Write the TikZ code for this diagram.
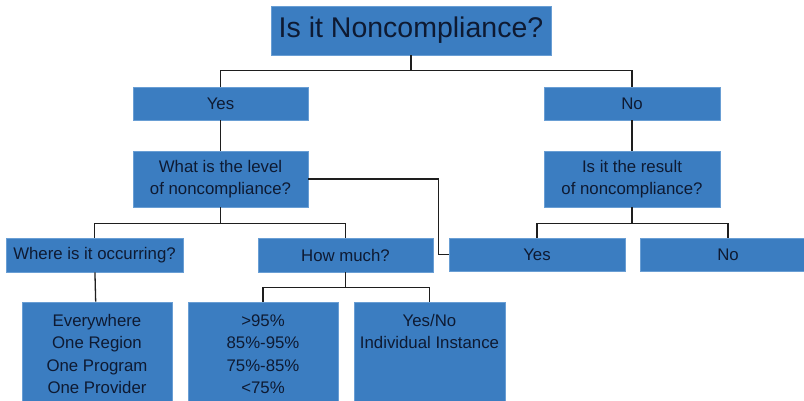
\documentclass[tikz,border=0pt]{standalone}
\usepackage{fontspec}
\setmainfont{Liberation Sans}
\definecolor{boxfill}{RGB}{59,125,193}
\definecolor{boxedge}{RGB}{105,158,212}
\definecolor{txt}{RGB}{14,26,50}
\definecolor{linec}{RGB}{30,30,30}
\begin{document}
\begin{tikzpicture}[x=1pt,y=-1pt,
  box/.style={rectangle, fill=boxfill, draw=boxedge, line width=0.8pt, text=txt,
    font=\fontsize{16.8}{22.5}\selectfont, align=center, inner sep=0pt},
  link/.style={draw=linec, line width=1.3pt}]
\clip (0,0) rectangle (804,400);
\fill[white] (0,0) rectangle (804,400);
% nodes
\node[box, minimum width=280, minimum height=49, font=\fontsize{28.5}{32}\selectfont] (title) at (411,30.5) {Is it Noncompliance?};
\node[box, minimum width=175, minimum height=33] (yes1) at (220.5,103.5) {Yes};
\node[box, minimum width=176, minimum height=33] (no1) at (632,103.5) {No};
\node[box, minimum width=175, minimum height=56] (lvl) at (220.5,179) {What is the level\\of noncompliance?};
\node[box, minimum width=176, minimum height=56] (res) at (632,179) {Is it the result\\of noncompliance?};
\node[box, minimum width=177, minimum height=34] (where) at (94.5,255) {Where is it occurring?};
\node[box, minimum width=175, minimum height=34] (how) at (345.5,255) {How much?};
\node[box, minimum width=176, minimum height=33] (yes3) at (537,254.5) {Yes};
\node[box, minimum width=176, minimum height=33] (no3) at (728,254.5) {No};
\node[box, minimum width=150, minimum height=104] (every) at (97,354) {Everywhere\\One Region\\One Program\\One Provider};
\node[box, minimum width=150, minimum height=104] (pct) at (263,354) {>95\%\\85\%-95\%\\75\%-85\%\\<75\%};
\node[box, minimum width=151, minimum height=104] (yn) at (429.5,354) {Yes/No\\Individual Instance\\\mbox{}\\\mbox{}};
% connectors
\draw[link] (title.south) -- ++(0,15) coordinate (t1) -| (yes1.north);
\draw[link] (t1) -| (no1.north);
\draw[link] (yes1) -- (lvl);
\draw[link] (no1) -- (res);
\draw[link] (lvl.south) -- ++(0,16) coordinate (l1) -| (where.north);
\draw[link] (l1) -| (how.north);
\draw[link] (lvl.east) -- ++(130,0) |- (yes3.west);
\draw[link] (res.south) -- ++(0,16) coordinate (r1) -| (yes3.north);
\draw[link] (r1) -| (no3.north);
\draw[link] (where) -- (every);
\draw[link] (how.south) -- ++(0,15) coordinate (h1) -| (pct.north);
\draw[link] (h1) -| (yn.north);
\end{tikzpicture}
\end{document}
